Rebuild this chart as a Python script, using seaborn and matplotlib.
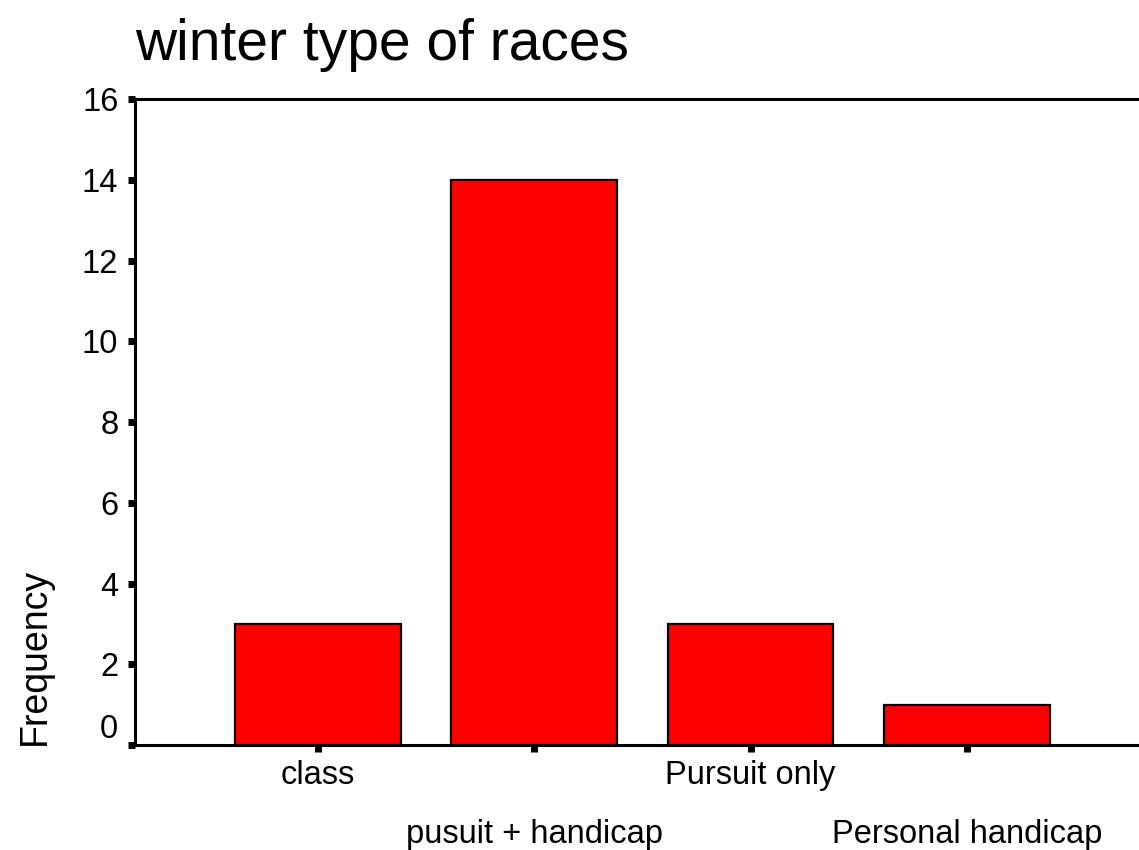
import matplotlib
matplotlib.use("Agg")
import matplotlib.pyplot as plt
import seaborn as sns
import pandas as pd

categories = ["class", "pusuit + handicap", "Pursuit only", "Personal handicap"]
frequencies = [3, 14, 3, 1]
y_ticks = [0, 2, 4, 6, 8, 10, 12, 14, 16]

sns.set_style("white")
plt.rcParams["font.family"] = ["Liberation Sans", "DejaVu Sans"]
plt.rcParams["text.color"] = "black"

df = pd.DataFrame({"type": categories, "Frequency": frequencies})

fig = plt.figure(figsize=(11.39, 8.5), dpi=100)
ax = fig.add_axes([0.1185, 0.1235, 0.891, 0.76])

sns.barplot(data=df, x="type", y="Frequency", color="#FF0000", saturation=1,
            width=0.767, edgecolor="black", linewidth=1.6, ax=ax)

ax.set_xlim(-0.846, 3.846)
ax.set_ylim(0, 16)
ax.set_yticks(y_ticks)
ax.set_yticklabels([str(v) for v in y_ticks])

for side in ["left", "bottom", "top"]:
    ax.spines[side].set_visible(True)
    ax.spines[side].set_color("black")
    ax.spines[side].set_linewidth(2.2)
ax.spines["right"].set_visible(False)

ax.tick_params(axis="y", direction="out", length=5, width=5, labelsize=23.5,
               pad=7, left=True, colors="black")
ax.tick_params(axis="x", direction="out", length=5, width=5, labelsize=23.5,
               pad=6, bottom=True, colors="black")

# stagger the category labels on two rows
for i, tick in enumerate(ax.xaxis.get_major_ticks()):
    if i % 2 == 1:
        tick.set_pad(48)

# lift the zero label off the bottom spine
ax.get_yticklabels()[0].set_verticalalignment("bottom")

ax.set_xlabel("")
ax.set_ylabel("Frequency", fontsize=27, color="black")
ax.yaxis.set_label_coords(-0.099, 0.0, transform=ax.transAxes)
ax.yaxis.label.set_verticalalignment("center")
ax.yaxis.label.set_horizontalalignment("left")

ax.set_title("winter type of races", loc="left", fontsize=41, pad=28, x=0.0,
             color="black")

fig.savefig("out.png", dpi=100)
